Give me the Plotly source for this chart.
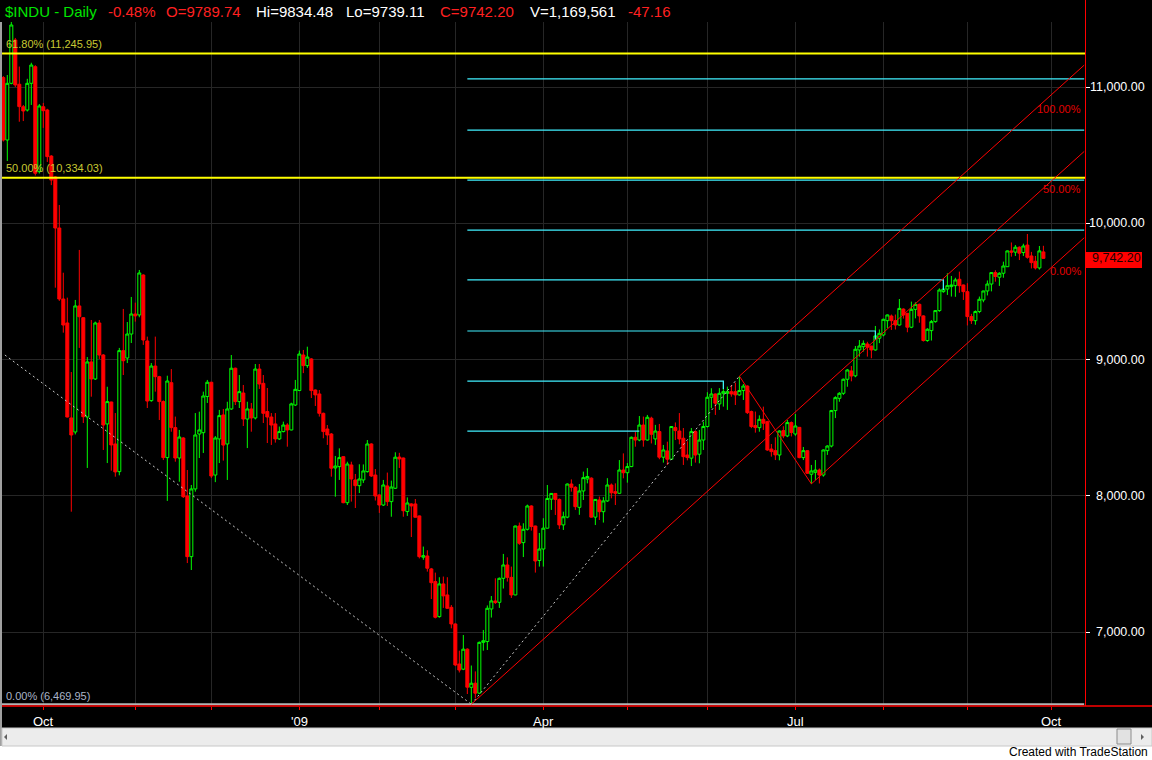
import plotly.graph_objects as go

# ---------------- data ----------------
# trading-day index 0 = 17 Sep 2008 ... 260 = 29 Sep 2009
opens = [11069, 10611, 11027, 11345, 11020, 10855, 10831, 11027, 11149, 10379,
         10855, 10831, 10493, 10340, 9965, 9444, 9268, 8571, 8468, 9393,
         9307, 8578, 8982, 8857, 9268, 9033, 8527, 8688, 8380, 8177,
         9065, 9011, 9187, 9334, 9327, 9620, 9136, 8698, 8952, 8874,
         8691, 8280, 8830, 8500, 8277, 8424, 7998, 7553, 8050, 8453,
         8463, 8728, 8833, 8152, 8417, 8593, 8380, 8637, 8936, 8691,
         8754, 8563, 8637, 8571, 8930, 8825, 8618, 8578, 8527, 8417,
         8471, 8519, 8483, 8666, 8772, 9033, 8955, 9004, 8776, 8747,
         8605, 8490, 8453, 8204, 8214, 8287, 7949, 8226, 8116, 8074,
         8116, 8177, 8380, 8152, 8006, 7932, 8072, 7957, 8055, 8284,
         8277, 7884, 7940, 7940, 7852, 7549, 7558, 7463, 7370, 7113,
         7353, 7272, 7181, 7059, 6765, 6727, 6874, 6594, 6624, 6551,
         6924, 6930, 7169, 7228, 7218, 7394, 7492, 7401, 7272, 7778,
         7656, 7754, 7925, 7778, 7525, 7609, 7762, 7975, 8017, 7973,
         7786, 7843, 8086, 8062, 7915, 8035, 8123, 8129, 7843, 7969,
         7883, 7962, 8079, 8030, 8018, 8189, 8169, 8214, 8429, 8409,
         8519, 8409, 8569, 8417, 8471, 8283, 8329, 8268, 8500, 8475,
         8422, 8299, 8276, 8471, 8305, 8409, 8508, 8723, 8747, 8674,
         8752, 8752, 8764, 8764, 8740, 8772, 8805, 8618, 8515, 8500,
         8561, 8544, 8343, 8331, 8299, 8478, 8439, 8537, 8453, 8502,
         8280, 8331, 8158, 8172, 8189, 8152, 8331, 8365, 8625, 8715,
         8752, 8855, 8916, 8880, 9070, 9094, 9114, 9099, 9070, 9156,
         9180, 9285, 9319, 9285, 9253, 9370, 9339, 9237, 9368, 9405,
         9320, 9139, 9212, 9278, 9359, 9498, 9517, 9535, 9542, 9589,
         9547, 9498, 9315, 9285, 9352, 9437, 9503, 9554, 9638, 9604,
         9633, 9681, 9797, 9788, 9824, 9785, 9840, 9760, 9721, 9672,
         9789.74]
highs = [11080, 11088, 11477, 11360, 11150, 10868, 11060, 11178, 11160, 10875,
         10883, 10840, 10500, 10345, 10134, 9637, 9454, 8908, 9437, 9804,
         9310, 9018, 9290, 9278, 9290, 9040, 8800, 8690, 8607, 9085,
         9371, 9275, 9459, 9417, 9657, 9625, 9168, 8974, 9168, 8880,
         8700, 8881, 8930, 8581, 8483, 8430, 8189, 8079, 8607, 8617,
         8764, 8850, 8836, 8438, 8630, 8637, 8690, 9033, 8940, 8886,
         8813, 8690, 8681, 8967, 8967, 8886, 8791, 8607, 8607, 8508,
         8544, 8532, 8683, 8850, 9065, 9070, 9094, 9010, 8780, 8776,
         8610, 8519, 8460, 8292, 8348, 8290, 8250, 8250, 8160, 8231,
         8230, 8409, 8385, 8196, 8010, 8116, 8170, 8111, 8319, 8315,
         8280, 7988, 7945, 7976, 7855, 7627, 7600, 7470, 7436, 7402,
         7407, 7402, 7198, 7063, 6863, 6978, 6880, 6754, 6711, 6930,
         7015, 7195, 7264, 7394, 7400, 7573, 7548, 7480, 7780, 7803,
         7798, 7935, 7930, 7780, 7727, 7835, 8079, 8020, 8020, 7980,
         7883, 8090, 8120, 8070, 8086, 8177, 8203, 8135, 7973, 7994,
         7990, 8129, 8090, 8091, 8262, 8311, 8240, 8435, 8471, 8585,
         8581, 8593, 8580, 8520, 8527, 8373, 8397, 8510, 8538, 8607,
         8497, 8400, 8497, 8480, 8483, 8544, 8760, 8789, 8750, 8790,
         8837, 8801, 8813, 8830, 8877.93, 8820, 8810, 8625, 8618, 8590,
         8654, 8550, 8380, 8429, 8480, 8510, 8556, 8545, 8600, 8505,
         8358, 8335, 8226, 8262, 8200, 8340, 8370, 8630, 8730, 8760,
         8860, 8930, 8952, 9099, 9143, 9140, 9130, 9100, 9246, 9220,
         9300, 9330, 9330, 9330, 9444, 9375, 9340, 9425, 9420, 9410,
         9325, 9230, 9290, 9360, 9522, 9584, 9633, 9613, 9600, 9645,
         9550, 9560, 9335, 9360, 9462, 9505, 9580, 9640, 9655, 9640,
         9718, 9800, 9859, 9840, 9830, 9850, 9921, 9790, 9760, 9833,
         9834.48]
lows = [10600, 10457, 11020, 11000, 10745, 10750, 10820, 10868, 10350, 10365,
        10700, 10450, 10280, 9527, 9430, 9197, 8575, 7883, 8450, 9085,
        8534, 8204, 8727, 8850, 9004, 8336, 8240, 8184, 8140, 8150,
        8886, 8974, 9121, 9278, 9310, 9107, 8644, 8690, 8764, 8556,
        8262, 7962, 8470, 8250, 8103, 7984, 7506, 7455, 8030, 8277,
        8314, 8681, 8130, 8100, 8240, 8258, 8116, 8630, 8666, 8644,
        8512, 8350, 8470, 8560, 8784, 8534, 8387, 8373, 8390, 8410,
        8465, 8360, 8480, 8659, 8770, 8900, 8938, 8717, 8659, 8581,
        8422, 8373, 8140, 7993, 8116, 7945, 7932, 7957, 7910, 8020,
        8094, 8170, 8138, 7965, 7874, 7925, 7925, 7846, 8050, 8204,
        7846, 7852, 7697, 7840, 7540, 7530, 7443, 7242, 7100, 7105,
        7177, 7170, 7027, 6750, 6703, 6720, 6545, 6469.95, 6514, 6545,
        6863, 6868, 7106, 7206, 7177, 7319, 7370, 7250, 7270, 7640,
        7550, 7745, 7744, 7436, 7480, 7480, 7760, 7896, 7859, 7756,
        7749, 7835, 8030, 7896, 7860, 7969, 8091, 7840, 7785, 7822,
        7803, 7955, 7981, 7932, 8015, 8128, 8096, 8210, 8360, 8400,
        8360, 8405, 8384, 8373, 8268, 8243, 8226, 8265, 8409, 8378,
        8226, 8260, 8218, 8243, 8238, 8336, 8500, 8642, 8593, 8630,
        8654, 8630, 8727, 8666, 8735, 8703, 8600, 8496, 8463, 8470,
        8483, 8330, 8287, 8262, 8260, 8422, 8430, 8435, 8440, 8275,
        8262, 8160, 8087.19, 8116, 8090, 8140, 8300, 8355, 8570, 8690,
        8740, 8800, 8840, 8870, 9021, 9058, 9021, 9009, 9065, 9120,
        9170, 9230, 9217, 9220, 9250, 9300, 9200, 9230, 9302, 9270,
        9132, 9130, 9139, 9270, 9350, 9490, 9474, 9462, 9460, 9490,
        9437, 9250, 9261, 9255, 9340, 9420, 9470, 9500, 9571, 9540,
        9600, 9680, 9755, 9760, 9730, 9760, 9740, 9668, 9660, 9660,
        9739.11]
closes = [10611, 11027, 11455, 11015, 10856, 10824, 11027, 11161, 10367, 10861,
          10826, 10489, 10317, 9965, 9444, 9253, 8578, 8446, 9393, 9314,
          8580, 8982, 8857, 9268, 9033, 8519, 8691, 8373, 8175, 9065,
          8991, 9187, 9334, 9320, 9635, 9143, 8695, 8952, 8874, 8691,
          8280, 8842, 8500, 8277, 8431, 7993, 7553, 8050, 8446, 8483,
          8732, 8833, 8145, 8424, 8588, 8372, 8637, 8936, 8691, 8764,
          8563, 8637, 8571, 8930, 8820, 8605, 8578, 8519, 8417, 8471,
          8519, 8483, 8674, 8781, 9040, 8955, 9018, 8772, 8740, 8605,
          8471, 8446, 8202, 8218, 8280, 7949, 8233, 8123, 8074, 8123,
          8182, 8380, 8145, 7998, 7932, 8079, 7957, 8064, 8283, 8270,
          7890, 7947, 7925, 7842, 7553, 7560, 7468, 7362, 7108, 7353,
          7265, 7174, 7059, 6758, 6721, 6874, 6595, 6624, 6551, 6924,
          6936, 7174, 7228, 7216, 7394, 7492, 7401, 7272, 7778, 7651,
          7754, 7925, 7774, 7521, 7609, 7762, 7980, 8017, 7973, 7786,
          7846, 8086, 8062, 7920, 8035, 8133, 8141, 7843, 7973, 7883,
          7962, 8079, 8022, 8018, 8189, 8169, 8214, 8429, 8409, 8519,
          8409, 8576, 8451, 8475, 8283, 8336, 8268, 8508, 8478, 8417,
          8287, 8280, 8471, 8299, 8409, 8508, 8723, 8747, 8679, 8752,
          8764, 8764, 8747, 8740, 8772, 8805, 8610, 8508, 8500, 8561,
          8532, 8336, 8324, 8300, 8475, 8439, 8537, 8464, 8512, 8280,
          8331, 8165, 8182, 8189, 8152, 8336, 8365, 8625, 8720, 8752,
          8855, 8923, 8879, 9075, 9099, 9118, 9090, 9070, 9173, 9192,
          9295, 9327, 9285, 9253, 9375, 9327, 9237, 9368, 9405, 9320,
          9139, 9222, 9278, 9359, 9510, 9517, 9542, 9547, 9584, 9542,
          9498, 9315, 9285, 9352, 9442, 9503, 9554, 9638, 9609, 9633,
          9686, 9797, 9788, 9824, 9780, 9833, 9750, 9711, 9672, 9797,
          9742.20]
day_index = list(range(len(closes)))

# month starts (trading-day index) and axis labels
month_idx = [10, 33, 52, 74, 94, 113, 135, 156, 176, 198, 220, 241, 262]
month_lbl = ["Oct", "", "", "'09", "", "", "Apr", "", "", "Jul", "", "", "Oct"]
price_ticks = [7000, 8000, 9000, 10000, 11000]

# Fibonacci retracement levels
fib_levels = [11245.95, 10334.03, 6469.95]
fib_names = ["61.80%", "50.00%", "0.00%"]

# horizontal levels drawn from the March low
lvl_values = [11059, 10684, 10317, 9950, 9584, 9209, 8842, 8475]
lvl_end = [270.2, 270.2, 270.2, 270.2, 235, 218, 180, 159]
lvl_stub = [None, None, None, None, 9510, 9143, 8784, None]
lvl_start = 116

# pitchfork anchor and pivots (index, price)
pf_anchor = (117, 6469.95)
pf_high = (184, 8877.93)
pf_low = (202, 8087.19)
pf_names = ["100.00%", "50.00%", "0.00%"]

# dotted trend lines
trend1 = [(0.4, 9033), (117, 6469.95)]
trend2 = [(117, 6469.95), (184, 8877.93)]

symbol = "$INDU - Daily"
pct_change = "-0.48%"
net_change = "-47.16"
volume = "1,169,561"

# ---------------- geometry helpers ----------------
PW, PH = 1085.0, 706.0
X_MIN, X_MAX = -0.825, 270.4
Y_MIN, Y_MAX = 6456.9, 11638.5


def px(x):
    return x / PW


def py(y):
    return 1 - y / PH


FONT = "Liberation Sans, Arial, sans-serif"
fig = go.Figure()

# yellow Fibonacci lines and grey 0% line
for lv in fib_levels[:2]:
    fig.add_trace(go.Scatter(x=[X_MIN, X_MAX], y=[lv, lv], mode="lines",
                             line=dict(color="#ffff00", width=2), hoverinfo="skip"))
fig.add_trace(go.Scatter(x=[X_MIN, 270.2], y=[fib_levels[2]] * 2, mode="lines",
                         line=dict(color="#b4b4b4", width=2), hoverinfo="skip"))

# cyan levels
for lv, xe, st in zip(lvl_values, lvl_end, lvl_stub):
    xs = [lvl_start, xe]
    ys = [lv, lv]
    if st is not None:
        xs.append(xe)
        ys.append(st)
    fig.add_trace(go.Scatter(x=xs, y=ys, mode="lines",
                             line=dict(color="#40f0ff", width=1.2), hoverinfo="skip"))

# dotted trend lines
for tl in (trend1, trend2):
    fig.add_trace(go.Scatter(x=[p[0] for p in tl], y=[p[1] for p in tl], mode="lines",
                             line=dict(color="#c8c8c8", width=1, dash="2px,3px"),
                             hoverinfo="skip"))

# Andrews pitchfork
mid_x = (pf_high[0] + pf_low[0]) / 2
mid_y = (pf_high[1] + pf_low[1]) / 2
slope = (mid_y - pf_anchor[1]) / (mid_x - pf_anchor[0])
x_end = 270.2
pf_lines = [pf_high, pf_anchor, pf_low]
for (x0, y0) in pf_lines:
    fig.add_trace(go.Scatter(x=[x0, x_end], y=[y0, y0 + slope * (x_end - x0)], mode="lines",
                             line=dict(color="#ff0000", width=1), hoverinfo="skip"))
fig.add_trace(go.Scatter(x=[pf_high[0], pf_low[0]], y=[pf_high[1], pf_low[1]], mode="lines",
                         line=dict(color="#ff0000", width=1), hoverinfo="skip"))

# candles
fig.add_trace(go.Candlestick(
    x=day_index, open=opens, high=highs, low=lows, close=closes,
    increasing=dict(line=dict(color="#00ff00", width=1), fillcolor="#000000"),
    decreasing=dict(line=dict(color="#ff0000", width=1), fillcolor="#ff0000"),
    whiskerwidth=0, hoverinfo="skip", showlegend=False))

shapes = []
ann = []

# title bar
shapes.append(dict(type="rect", xref="paper", yref="paper", x0=px(0), x1=px(1084),
                   y0=py(0), y1=py(22), fillcolor="#000000", line=dict(width=0), layer="above"))
title_parts = [
    (symbol, 3, "#00e600"),
    (pct_change, 106, "#ff2020"),
    ("O=%.2f" % opens[-1], 164, "#ff2020"),
    ("Hi=%.2f" % highs[-1], 254, "#ffffff"),
    ("Lo=%.2f" % lows[-1], 344, "#ffffff"),
    ("C=%.2f" % closes[-1], 438, "#ff2020"),
    ("V=" + volume, 528, "#ffffff"),
    (net_change, 626, "#ff2020"),
]
for txt, xl, col in title_parts:
    ann.append(dict(text=txt, xref="paper", yref="paper", x=px(xl), y=py(12),
                    xanchor="left", yanchor="middle", showarrow=False,
                    font=dict(family=FONT, size=15, color=col)))

# fib labels
fib_label_y = [44, 168]
for name, lv, yy in zip(fib_names[:2], fib_levels[:2], fib_label_y):
    ann.append(dict(text="%s (%s)" % (name, format(lv, ",.2f")), xref="paper", yref="paper",
                    x=px(4), y=py(yy), xanchor="left", yanchor="middle", showarrow=False,
                    font=dict(family=FONT, size=11, color="#c8c832")))
ann.append(dict(text="%s (%s)" % (fib_names[2], format(fib_levels[2], ",.2f")),
                xref="paper", yref="paper", x=px(4), y=py(696), xanchor="left",
                yanchor="middle", showarrow=False,
                font=dict(family=FONT, size=11, color="#aab4c8")))

# pitchfork labels
for name, yy in zip(pf_names, [109, 189, 271]):
    ann.append(dict(text=name, xref="paper", yref="paper", x=px(1083), y=py(yy),
                    xanchor="right", yanchor="middle", showarrow=False,
                    font=dict(family=FONT, size=11, color="#e00000")))

# y tick labels (right aligned)
for v in price_ticks:
    ann.append(dict(text=format(v, ",.2f"), xref="paper", yref="y", x=px(1147), y=v,
                    xanchor="right", yanchor="middle", showarrow=False,
                    font=dict(family=FONT, size=12.5, color="#ffffff")))

# last price box
shapes.append(dict(type="rect", xref="paper", yref="paper", x0=px(1086), x1=px(1142),
                   y0=py(252), y1=py(268), fillcolor="#ff0000", line=dict(width=0)))
ann.append(dict(text=format(closes[-1], ",.2f"), xref="paper", yref="y", x=px(1090),
                y=closes[-1], xanchor="left", yanchor="middle", showarrow=False,
                font=dict(family=FONT, size=12.5, color="#1a0000")))

# x labels
for i, lbl in zip(month_idx, month_lbl):
    if lbl:
        xx = 3.3 + 4 * i
        ann.append(dict(text=lbl, xref="paper", yref="paper", x=px(xx), y=py(721),
                        xanchor="center", yanchor="middle", showarrow=False,
                        font=dict(family=FONT, size=13, color="#ffffff")))

# axis lines (red)
shapes.append(dict(type="line", xref="paper", yref="paper", x0=px(0), x1=px(1152),
                   y0=py(706), y1=py(706), line=dict(color="#ff0000", width=1.5), layer="above"))
shapes.append(dict(type="line", xref="paper", yref="paper", x0=px(1085.5), x1=px(1085.5),
                   y0=py(0), y1=py(706), line=dict(color="#ff0000", width=1), layer="above"))

# left border
shapes.append(dict(type="rect", xref="paper", yref="paper", x0=px(0), x1=px(2),
                   y0=py(22), y1=py(746), fillcolor="#a0a0a0", line=dict(width=0), layer="above"))

# scrollbar and bottom strip
shapes.append(dict(type="rect", xref="paper", yref="paper", x0=px(0), x1=px(1152),
                   y0=py(746), y1=py(760), fillcolor="#ffffff", line=dict(width=0)))
shapes.append(dict(type="rect", xref="paper", yref="paper", x0=px(2), x1=px(1152),
                   y0=py(728), y1=py(746), fillcolor="#ececec", line=dict(color="#c8c8c8", width=1)))
shapes.append(dict(type="rect", xref="paper", yref="paper", x0=px(1117), x1=px(1131),
                   y0=py(729), y1=py(744), fillcolor="#e2e2e2", line=dict(color="#8c8c8c", width=1)))
shapes.append(dict(type="path", xref="paper", yref="paper",
                   path="M %f,%f L %f,%f L %f,%f Z" % (px(4), py(737), px(7), py(734), px(7), py(740)),
                   fillcolor="#606060", line=dict(width=0)))
shapes.append(dict(type="path", xref="paper", yref="paper",
                   path="M %f,%f L %f,%f L %f,%f Z" % (px(1144), py(737), px(1141), py(734), px(1141), py(740)),
                   fillcolor="#606060", line=dict(width=0)))
ann.append(dict(text="Created with TradeStation", xref="paper", yref="paper", x=px(1150),
                y=py(752), xanchor="right", yanchor="middle", showarrow=False,
                font=dict(family="Liberation Sans Narrow, Arial Narrow, " + FONT, size=12,
                          color="#000000")))

fig.update_layout(
    width=1152, height=760,
    margin=dict(l=0, r=67, t=0, b=54, pad=0),
    paper_bgcolor="#000000", plot_bgcolor="#000000",
    showlegend=False,
    boxgap=0.25, boxgroupgap=0,
    shapes=shapes, annotations=ann,
    xaxis=dict(range=[X_MIN, X_MAX], tickmode="array", tickvals=month_idx,
               ticktext=[""] * len(month_idx), showticklabels=False,
               showgrid=True, gridcolor="#262626", gridwidth=1, zeroline=False,
               ticks="outside", ticklen=3, tickcolor="#ff0000", showline=False,
               rangeslider=dict(visible=False), fixedrange=True),
    yaxis=dict(range=[Y_MIN, Y_MAX], side="right", tickmode="array", tickvals=price_ticks,
               showticklabels=False, showgrid=True, gridcolor="#262626", gridwidth=1,
               zeroline=False, ticks="outside", ticklen=4, tickcolor="#ffffff",
               showline=False, fixedrange=True),
)

fig.write_html("out.html", config={"displayModeBar": False},
               post_script="document.body.style.margin='0';document.body.style.overflow='hidden';")
